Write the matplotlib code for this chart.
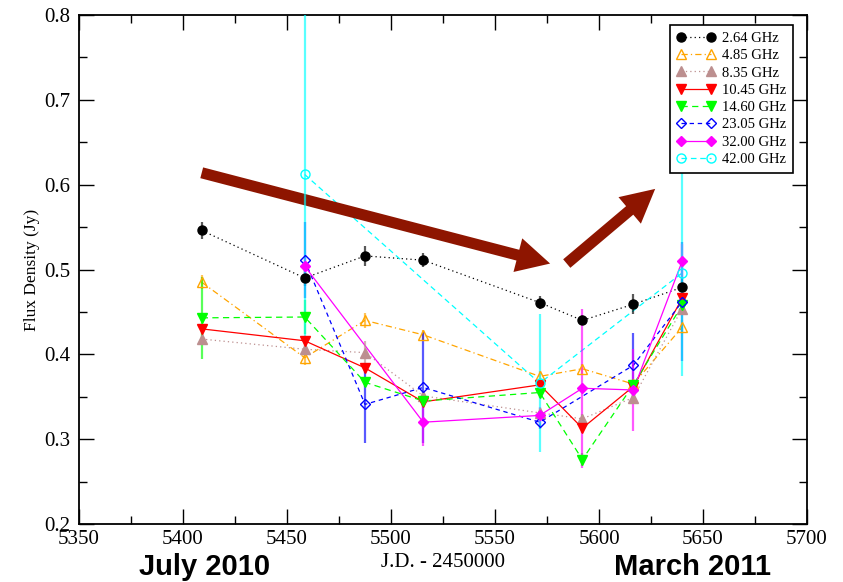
import matplotlib
matplotlib.use("Agg")
import matplotlib.pyplot as plt
from matplotlib.lines import Line2D
from matplotlib.ticker import MultipleLocator, FormatStrFormatter

# Observing epochs (J.D. - 2450000)
epochs = [5409.0, 5458.5, 5487.5, 5515.5, 5571.5, 5592.0, 5616.5, 5640.0]

# Frequencies and flux densities (Jy) with 1-sigma errors
labels = ["2.64 GHz", "4.85 GHz", "8.35 GHz", "10.45 GHz",
          "14.60 GHz", "23.05 GHz", "32.00 GHz", "42.00 GHz"]

jd_264 = [5409.0, 5458.5, 5487.5, 5515.5, 5571.5, 5592.0, 5616.5, 5640.0]
s_264 = [0.546, 0.490, 0.516, 0.511, 0.461, 0.440, 0.459, 0.479]
e_264 = [0.010, 0.010, 0.012, 0.008, 0.008, 0.006, 0.012, 0.012]

jd_485 = [5409.0, 5458.5, 5487.5, 5515.5, 5571.5, 5592.0, 5616.5, 5640.0]
s_485 = [0.485, 0.396, 0.440, 0.423, 0.374, 0.383, 0.365, 0.432]
e_485 = [0.008, 0.008, 0.009, 0.006, 0.006, 0.006, 0.006, 0.008]

jd_835 = [5409.0, 5458.5, 5487.5, 5515.5, 5571.5, 5592.0, 5616.5, 5640.0]
s_835 = [0.418, 0.406, 0.402, 0.351, 0.331, 0.324, 0.349, 0.454]
e_835 = [0.006, 0.008, 0.014, 0.006, 0.006, 0.006, 0.006, 0.006]

jd_1045 = [5409.0, 5458.5, 5487.5, 5515.5, 5571.5, 5592.0, 5616.5, 5640.0]
s_1045 = [0.430, 0.416, 0.384, 0.344, 0.364, 0.313, 0.362, 0.466]
e_1045 = [0.006, 0.006, 0.006, 0.006, 0.006, 0.006, 0.006, 0.006]

jd_1460 = [5409.0, 5458.5, 5487.5, 5515.5, 5571.5, 5592.0, 5616.5, 5640.0]
s_1460 = [0.443, 0.444, 0.367, 0.345, 0.355, 0.276, 0.364, 0.458]
e_1460 = [0.048, 0.020, 0.006, 0.006, 0.006, 0.008, 0.006, 0.006]

jd_2305 = [5458.5, 5487.5, 5515.5, 5571.5, 5616.5, 5640.0]
s_2305 = [0.511, 0.341, 0.361, 0.320, 0.387, 0.462]
e_2305 = [0.045, 0.045, 0.065, 0.008, 0.038, 0.070]

jd_3200 = [5458.5, 5515.5, 5571.5, 5592.0, 5616.5, 5640.0]
s_3200 = [0.504, 0.320, 0.328, 0.360, 0.358, 0.510]
e_3200 = [0.010, 0.028, 0.010, 0.094, 0.048, 0.020]

jd_4200 = [5458.5, 5571.5, 5640.0]
s_4200 = [0.612, 0.366, 0.496]
e_4200 = [0.195, 0.081, 0.121]

series = [
    (jd_264, s_264, e_264),
    (jd_485, s_485, e_485),
    (jd_835, s_835, e_835),
    (jd_1045, s_1045, e_1045),
    (jd_1460, s_1460, e_1460),
    (jd_2305, s_2305, e_2305),
    (jd_3200, s_3200, e_3200),
    (jd_4200, s_4200, e_4200),
]

# Styles: colour, marker, filled, line dash
styles = [
    dict(color="black", marker="o", filled=True, ls=(0, (1.0, 2.5))),
    dict(color="#ffa500", marker="^", filled=False, ls=(0, (5, 2.5, 1, 2.5))),
    dict(color="#bc8f8f", marker="^", filled=True, ls=(0, (1.0, 2.5))),
    dict(color="#ff0000", marker="v", filled=True, ls="-"),
    dict(color="#00ff00", marker="v", filled=True, ls=(0, (5, 3.5))),
    dict(color="#0000ff", marker="D", filled=False, ls=(0, (3.5, 3))),
    dict(color="#ff00ff", marker="D", filled=True, ls="-"),
    dict(color="#00ffff", marker="o", filled=False, ls=(0, (4.5, 3))),
]
marker_sizes = {"o": 6.5, "^": 6.5, "v": 6.5, "D": 4.8}

# Trend arrows (data coordinates): tail -> head
arrow_down = ((5409.0, 0.614), (5576.5, 0.507))
arrow_up = ((5584.5, 0.507), (5627.0, 0.595))
arrow_color = "#8e1500"

serif = ["Liberation Serif", "DejaVu Serif"]
plt.rcParams["font.family"] = serif

fig = plt.figure(figsize=(8.43, 5.82), dpi=100)
ax = fig.add_axes([79 / 843, 1 - 524 / 582, 728 / 843, 509 / 582])

handles = []
for (x, y, e), st, lab in zip(series, styles, labels):
    c = st["color"]
    ms = marker_sizes[st["marker"]]
    mfc = c if st["filled"] else "none"
    ax.plot(x, y, color=c, ls=st["ls"], lw=0.9, zorder=2)
    ax.errorbar(x, y, yerr=e, fmt="none", ecolor=c, elinewidth=1.6,
                alpha=0.65, capsize=0, zorder=3)
    ax.plot(x, y, ls="none", marker=st["marker"], ms=ms, mfc=mfc,
            mec=c, mew=1.0, zorder=4)
    handles.append(Line2D([], [], color=c, ls=st["ls"], lw=0.9,
                          marker=st["marker"], ms=ms, mfc=mfc, mec=c,
                          mew=1.0))

for tail, head in (arrow_down, arrow_up):
    ax.annotate("", xy=head, xytext=tail,
                arrowprops=dict(arrowstyle="simple,head_length=24,head_width=25,tail_width=8",
                                mutation_scale=1, fc=arrow_color, ec="none",
                                shrinkA=0, shrinkB=0),
                zorder=2.5)

ax.set_xlim(5350, 5700)
ax.set_ylim(0.2, 0.8)
ax.xaxis.set_major_locator(MultipleLocator(50))
ax.xaxis.set_minor_locator(MultipleLocator(25))
ax.yaxis.set_major_locator(MultipleLocator(0.1))
ax.yaxis.set_minor_locator(MultipleLocator(0.05))
ax.yaxis.set_major_formatter(FormatStrFormatter("%.1f"))
ax.tick_params(which="both", direction="in", top=True, right=True,
               width=1.0, labelsize=15)
ax.tick_params(which="major", length=11)
ax.tick_params(which="minor", length=5.5)
ax.tick_params(axis="x", pad=4)
ax.tick_params(axis="y", pad=6)
for sp in ax.spines.values():
    sp.set_linewidth(1.3)

ax.set_xlabel("J.D. - 2450000", fontsize=15, labelpad=3)
ax.set_ylabel("Flux Density (Jy)", fontsize=12.5, labelpad=3)

leg = ax.legend(handles, labels, loc="upper right",
                bbox_to_anchor=(0.981, 0.980), borderaxespad=0,
                numpoints=2, handlelength=2.66, handletextpad=0.45,
                labelspacing=0.28, borderpad=0.45, fancybox=False,
                framealpha=1, edgecolor="black",
                prop=dict(family=serif, size=10.5))
leg.get_frame().set_linewidth(1.2)
leg.set_zorder(10)

bold_sans = ["Liberation Sans", "DejaVu Sans"]
fig.text(205 / 843, 1 - 575 / 582, "July 2010", ha="center", va="baseline",
         fontsize=21, fontweight="bold", family=bold_sans)
fig.text(692 / 843, 1 - 575 / 582, "March 2011", ha="center", va="baseline",
         fontsize=21, fontweight="bold", family=bold_sans)

fig.savefig("out.png", dpi=100)
